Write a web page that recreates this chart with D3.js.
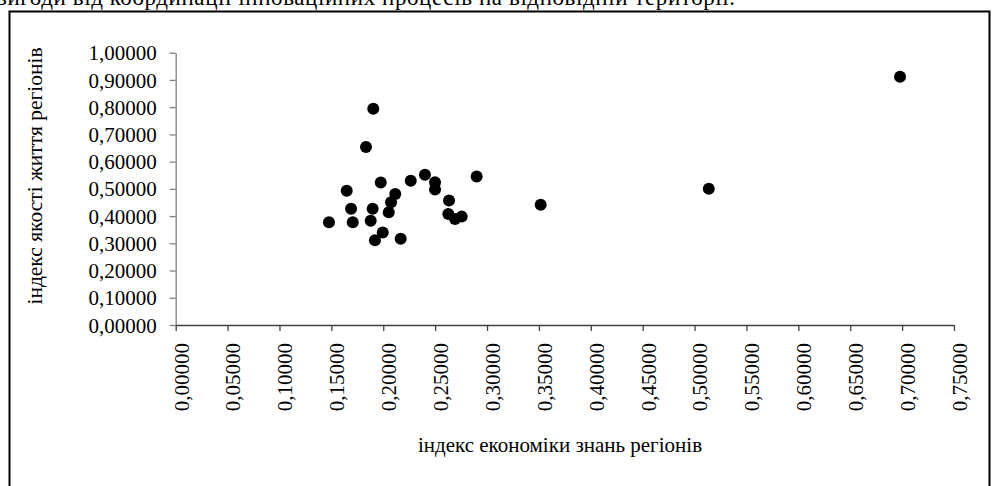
<!DOCTYPE html>
<html>
<head>
<meta charset="utf-8">
<script src="https://cdn.jsdelivr.net/npm/d3@7"></script>
<style>
  html, body { margin: 0; padding: 0; background: #fff; }
  svg { display: block; }
  text { font-family: "Liberation Serif", "Times New Roman", serif; fill: #000; }
</style>
</head>
<body>
<svg id="chart" width="992" height="486"></svg>
<script>
// ---- data ----
const xValues = [0.1477, 0.1648, 0.1690, 0.1706, 0.1976, 0.1898, 0.1879, 0.1995, 0.1920,
                 0.2168, 0.2053, 0.2075, 0.2116, 0.2265, 0.2402, 0.2499, 0.2499, 0.2634,
                 0.2627, 0.2692, 0.2756, 0.2900, 0.3517, 0.5137, 0.1834, 0.1904, 0.6980];
const yValues = [0.377, 0.493, 0.427, 0.377, 0.523, 0.427, 0.383, 0.340, 0.311,
                 0.317, 0.414, 0.451, 0.481, 0.530, 0.552, 0.524, 0.498, 0.457,
                 0.408, 0.389, 0.398, 0.545, 0.442, 0.500, 0.654, 0.794, 0.912];
const xTicks = [0, 0.05, 0.10, 0.15, 0.20, 0.25, 0.30, 0.35, 0.40, 0.45, 0.50, 0.55, 0.60, 0.65, 0.70, 0.75];
const yTicks = [0, 0.1, 0.2, 0.3, 0.4, 0.5, 0.6, 0.7, 0.8, 0.9, 1.0];
const xTitle = "індекс економіки знань регіонів";
const yTitle = "індекс якості життя регіонів";
const topText = "вигоди від координації інноваційних процесів на відповідній території.";

const fmt = v => d3.format(".5f")(v).replace(".", ",");
const serif = '"Liberation Serif", "Times New Roman", serif';

const svg = d3.select("#chart");

// cut-off text line above the frame (continuation of the document paragraph)
svg.append("text")
  .attr("x", -4).attr("y", 5)
  .attr("textLength", 739)
  .attr("lengthAdjust", "spacing")
  .style("font-size", "23px")
  .text(topText);

// outer frame
svg.append("rect")
  .attr("x", 9.5).attr("y", 11.5)
  .attr("width", 980).attr("height", 500)
  .attr("fill", "none").attr("stroke", "#000").attr("stroke-width", 2);

const x = d3.scaleLinear().domain([0, 0.75]).range([175.7, 954]);
const y = d3.scaleLinear().domain([0, 1]).range([325, 52.7]);

// y axis
const gy = svg.append("g")
  .attr("transform", `translate(${x(0)},0)`)
  .call(d3.axisLeft(y).tickValues(yTicks).tickFormat(fmt).tickSize(6).tickSizeOuter(0));
gy.select(".domain").attr("stroke", "#808080").attr("stroke-width", 1.3);
gy.selectAll(".tick line").attr("stroke", "#808080").attr("stroke-width", 1.3);
gy.selectAll(".tick text")
  .attr("x", -19)
  .attr("dy", "0.34em")
  .style("font-size", "21px")
  .style("font-family", serif)
  .attr("fill", "#000");

// x axis
const gx = svg.append("g")
  .attr("transform", `translate(0,${y(0)})`)
  .call(d3.axisBottom(x).tickValues(xTicks).tickFormat(fmt).tickSize(6).tickSizeOuter(0));
gx.select(".domain").attr("stroke", "#404040").attr("stroke-width", 1.3);
gx.selectAll(".tick line").attr("stroke", "#404040").attr("stroke-width", 1.3);
gx.selectAll(".tick text")
  .attr("transform", "translate(5,0) rotate(-90)")
  .attr("text-anchor", "end")
  .attr("x", -18)
  .attr("y", 0)
  .attr("dy", "0.35em")
  .style("font-size", "21px")
  .style("font-family", serif)
  .attr("fill", "#000");

// points
svg.append("g").selectAll("circle")
  .data(xValues.map((v, i) => [v, yValues[i]]))
  .join("circle")
  .attr("cx", d => x(d[0]))
  .attr("cy", d => y(d[1]))
  .attr("r", 6)
  .attr("fill", "#000");

// axis titles
svg.append("text")
  .attr("x", 560).attr("y", 452)
  .attr("text-anchor", "middle")
  .style("font-size", "21px")
  .text(xTitle);

svg.append("text")
  .attr("transform", "translate(42,176) rotate(-90)")
  .attr("text-anchor", "middle")
  .style("font-size", "21.5px")
  .text(yTitle);
</script>
</body>
</html>
